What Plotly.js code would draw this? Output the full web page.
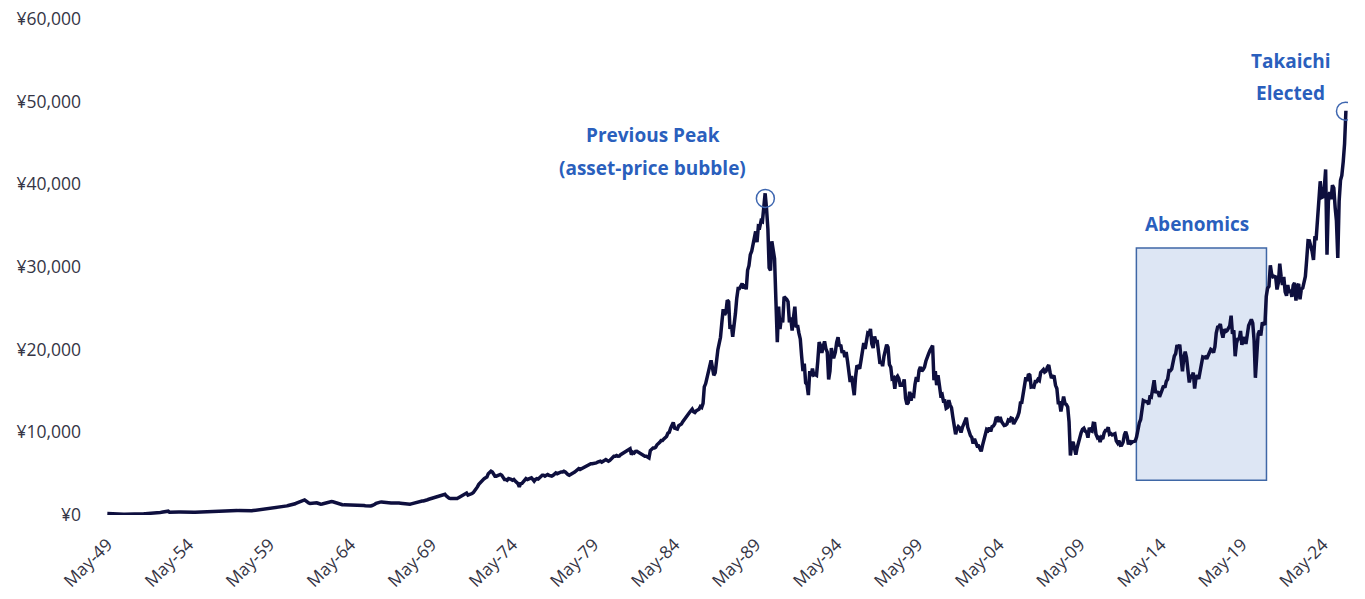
<!DOCTYPE html>
<html>
<head>
<meta charset="utf-8">
<script src="https://cdn.plot.ly/plotly-3.0.1.min.js"></script>
<style>html,body{margin:0;padding:0;background:#fff;}#chart{width:1365px;height:599px;}</style>
</head>
<body>
<div id="chart"></div>
<script>
// Nikkei 225, monthly values (approx.), starting May 1949
const startYear = 1949, startMonth = 5;
const values1949to1959 = [
  176,160,150,140,128,120,115,109,
  105,101,98,92,90,88,86,92,98,100,98,102,
  110,115,125,130,135,140,145,150,160,165,165,166,
  175,190,210,230,240,260,280,300,320,340,360,362,
  400,460,340,330,340,350,360,370,380,370,370,377,
  370,360,340,330,320,330,340,340,340,340,350,356,
  360,370,370,370,380,380,390,390,400,410,420,425,
  450,470,480,500,500,520,530,540,540,540,550,549,
  560,580,590,560,550,530,520,510,500,480,470,474,
  490,500,510,520,540,560,560,570,580,600,650,666,
  700,720,740,760,780,800,820,830,850,870,870,874
];
const values1960to1969 = [
  920,950,980,1000,1050,1100,1150,1180,1200,1200,1250,1356,
  1450,1500,1580,1650,1700,1750,1829,1700,1550,1450,1400,1432,
  1450,1480,1500,1480,1420,1350,1300,1330,1380,1420,1450,1420,
  1500,1600,1620,1600,1550,1450,1350,1300,1320,1300,1250,1225,
  1220,1250,1260,1300,1280,1250,1230,1210,1220,1230,1220,1216,
  1200,1180,1150,1120,1100,1050,1020,1100,1150,1200,1300,1417,
  1500,1550,1560,1580,1550,1500,1480,1450,1440,1430,1440,1452,
  1470,1480,1470,1460,1440,1420,1400,1380,1340,1330,1300,1283,
  1300,1350,1400,1450,1500,1550,1550,1600,1650,1700,1700,1714,
  1800,1850,1900,1950,2000,2050,2050,2100,2200,2300,2350,2358
];
const values1970to1979 = [
  2450,2500,2500,2300,2100,2050,2000,2000,2050,2050,2000,1987,
  2100,2200,2300,2400,2500,2600,2650,2400,2450,2500,2600,2713,
  2900,3200,3400,3700,3900,4100,4200,4400,4500,4600,5000,5207,
  5300,5200,5000,4700,4700,4800,4900,4900,4800,4500,4300,4306,
  4200,4400,4400,4300,4200,4300,4100,3900,3800,3400,3800,3817,
  4000,4200,4400,4300,4400,4400,4500,4300,4100,4300,4400,4358,
  4500,4700,4800,4800,4700,4800,4900,4800,4700,4700,4800,4990,
  5100,5000,5100,5100,5200,5200,5300,5200,5000,4900,4800,4865,
  5000,5100,5200,5300,5400,5600,5500,5600,5700,5800,5900,6001,
  6100,6100,6200,6200,6200,6300,6300,6400,6500,6500,6400,6569
];
const values1980to1989 = [
  6600,6700,6600,6500,6600,6800,7000,7100,7100,7200,7100,7116,
  7300,7400,7500,7600,7600,7800,7900,8000,7300,7600,7500,7681,
  7700,7600,7400,7300,7300,7200,7100,7100,7000,6900,7800,8016,
  8100,8100,8200,8500,8600,8800,9000,9000,9200,9300,9500,9893,
  10000,10500,11000,11200,10500,10500,10400,10800,10900,11000,11300,11542,
  11700,12000,12300,12400,12600,12800,12500,12400,12600,12700,12800,13113,
  13000,13500,15500,15900,16500,17500,17800,18700,17800,16900,17200,18701,
  20000,20800,21500,23300,24900,24200,24500,26000,25800,22500,23000,21564,
  23600,24400,26200,27400,27400,27800,28000,27400,27900,27300,29600,30159,
  31500,31900,32800,33700,34300,33000,34900,34800,35600,35500,37300,38916
];
const values1990to1999 = [
  37100,34600,29900,29600,33100,31900,31000,25900,20900,25200,22500,23849,
  23300,26400,26300,26100,25800,23300,23900,22300,23900,25200,22700,22984,
  22000,21300,19300,17400,18300,16000,15800,14500,17400,16800,17700,16925,
  17000,16900,18600,20900,20500,19600,20400,21000,20100,19700,16400,17417,
  20200,19100,19100,19700,20900,21500,20400,20600,19600,19900,19100,19723,
  18600,17100,16100,16800,15400,14500,16700,18100,17900,17700,18700,19868,
  20800,20100,21400,22000,21900,22500,20700,20200,21600,21000,21000,19361,
  18300,18600,18000,19200,20000,20600,20300,18200,17900,16500,16600,15259,
  16600,16800,16500,15700,15700,15800,16400,14100,13400,13600,14900,13842,
  14500,14400,15800,16700,16100,17500,17900,17400,17600,17900,18600,18934
];
const values2000to2009 = [
  19500,19900,20300,20500,16300,17400,15700,16900,15700,14500,14600,13786,
  13800,12900,13000,13900,13300,12970,11860,10700,9770,10370,10700,10543,
  9990,10590,11025,11490,11760,10620,10000,9620,9380,8640,9220,8579,
  8340,8360,7970,7700,8420,9080,9560,10340,10220,10560,10100,10677,
  10780,11040,11720,11760,11240,11860,11320,11080,10820,10860,11000,11489,
  11390,11740,11670,11010,11280,11580,11900,12410,13570,13610,14870,16111,
  16650,16210,17060,16910,15470,15500,15460,16140,16130,16400,16270,17226,
  17380,17600,17290,17400,17880,18140,17250,16570,16790,16740,15680,15308,
  13590,13600,12530,13850,14340,13480,13380,13070,11260,7200,8510,8860,
  7990,7300,8110,8830,9520,9960,10360,10490,10130,10030,9350,10546
];
const values2010to2019 = [
  10200,10130,11090,11060,9770,9380,9540,8820,9370,9200,9940,10229,
  10240,10620,9760,9850,9690,9820,9830,8960,8700,8990,8430,8455,
  8800,9720,10080,9520,8540,9010,8700,8840,8870,8930,9450,10395,
  11140,11560,12400,13860,13770,13680,13670,13390,14460,14330,15660,16291,
  14910,14840,14830,14300,14630,15160,15620,15420,16170,16410,17460,17451,
  17670,18800,19210,19520,20560,20240,20590,18890,17390,19080,19750,19034,
  17520,16030,16760,16670,17230,15300,16570,16890,16450,17430,18310,19114,
  19040,19120,18910,19200,19650,20030,19930,19650,20360,22010,22720,22765,
  23100,22070,21450,22470,22200,22300,22550,22870,24120,21920,22350,19200,
  20770,21390,21210,22260,20600,21280,21520,20700,21760,22930,23290,23657
];
const values2020to2025 = [
  23210,21140,16600,20190,21880,22290,21710,23140,23190,22980,26430,27444,
  27660,30200,29180,28810,28860,28790,27280,28090,30400,28890,27820,28792,
  27000,26530,27820,26850,27280,26390,27800,28090,25940,27590,27970,26095,
  27330,27450,28040,28860,30890,33190,33170,32620,31860,30860,33490,33464,
  36290,39170,40370,38410,38490,39580,41800,31500,37920,39080,38210,39895,
  39570,37160,35620,31100,37970,40490,41070,42720,44930,48900
];

const values = [].concat(values1949to1959, values1960to1969, values1970to1979,
  values1980to1989, values1990to1999, values2000to2009, values2010to2019, values2020to2025);
const dates = values.map((v, i) => {
  const m0 = startMonth - 1 + i;
  const y = startYear + Math.floor(m0 / 12);
  const m = (m0 % 12) + 1;
  return y + '-' + String(m).padStart(2, '0') + '-15';
});

const tickDates = ['1949-05-15','1954-05-15','1959-05-15','1964-05-15','1969-05-15','1974-05-15','1979-05-15',
  '1984-05-15','1989-05-15','1994-05-15','1999-05-15','2004-05-15','2009-05-15','2014-05-15','2019-05-15','2024-05-15'];
const tickLabels = ['May-49','May-54','May-59','May-64','May-69','May-74','May-79','May-84','May-89',
  'May-94','May-99','May-04','May-09','May-14','May-19','May-24'];
const yTicks = [0,10000,20000,30000,40000,50000,60000];
const yTickLabels = ['¥0','¥10,000','¥20,000','¥30,000','¥40,000','¥50,000','¥60,000'];

const annColor = '#2a5fbd';
const annFont = {family: '"Open Sans", Lato, sans-serif', size: 19, color: annColor, weight: 'bold'};
const tickFont = {family: '"Open Sans", sans-serif', size: 17.5, color: '#353545'};

const trace = {
  x: dates, y: values, type: 'scatter', mode: 'lines',
  line: {color: '#0e0f3e', width: 3.5}, hoverinfo: 'skip'
};

const layout = {
  width: 1365, height: 599,
  margin: {l: 104, r: 17, t: 19, b: 84},
  paper_bgcolor: '#ffffff', plot_bgcolor: '#ffffff',
  showlegend: false,
  font: {family: '"Open Sans", sans-serif', color: '#353545', size: 17},
  xaxis: {
    type: 'date', range: ['1949-03-01', '2025-12-01'],
    tickmode: 'array', tickvals: tickDates, ticktext: tickLabels,
    tickangle: -45, showgrid: false, zeroline: false, showline: false, ticks: '',
    ticklabelstandoff: 15, tickfont: tickFont
  },
  yaxis: {
    range: [0, 60000], tickmode: 'array', tickvals: yTicks, ticktext: yTickLabels,
    showgrid: false, zeroline: false, showline: false, ticks: '',
    ticklabelstandoff: 22, tickfont: tickFont
  },
  shapes: [
    {type: 'rect', xref: 'x', yref: 'y', x0: '2012-11-10', x1: '2020-11-20', y0: 4200, y1: 32300,
     fillcolor: '#dde6f4', line: {color: '#3f67a6', width: 1.5}, layer: 'below'},
    {type: 'circle', xref: 'x', yref: 'y', xsizemode: 'pixel', ysizemode: 'pixel',
     xanchor: '1989-12-20', yanchor: 38300, x0: -9, x1: 9, y0: -9, y1: 9,
     line: {color: '#3f67b0', width: 1.5}},
    {type: 'circle', xref: 'x', yref: 'y', xsizemode: 'pixel', ysizemode: 'pixel',
     xanchor: '2025-10-05', yanchor: 48850, x0: -9, x1: 9, y0: -9, y1: 9,
     line: {color: '#3f67b0', width: 1.5}}
  ],
  annotations: [
    {xref: 'x', yref: 'y', x: '1983-01-05', y: 46000, text: 'Previous Peak', showarrow: false, font: annFont},
    {xref: 'x', yref: 'y', x: '1983-01-05', y: 41970, text: '(asset-price bubble)', showarrow: false, font: annFont},
    {xref: 'x', yref: 'y', x: '2016-08-01', y: 35200, text: 'Abenomics', showarrow: false, font: annFont},
    {xref: 'x', yref: 'y', x: '2022-05-20', y: 54920, text: 'Takaichi', showarrow: false, font: annFont},
    {xref: 'x', yref: 'y', x: '2022-05-20', y: 51050, text: 'Elected', showarrow: false, font: annFont}
  ]
};

Plotly.newPlot('chart', [trace], layout, {staticPlot: true, displayModeBar: false});
</script>
</body>
</html>
